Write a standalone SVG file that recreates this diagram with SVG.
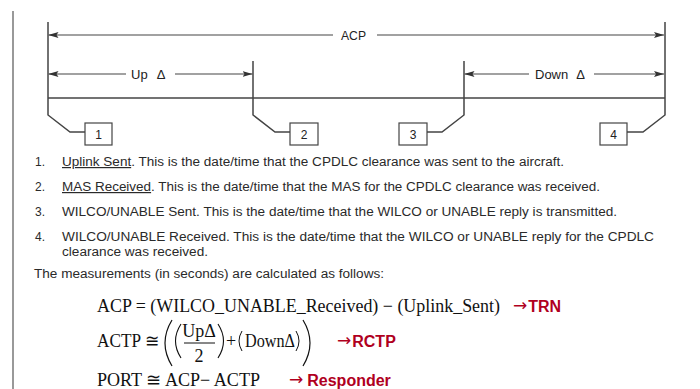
<svg xmlns="http://www.w3.org/2000/svg" width="700" height="389" viewBox="0 0 700 389">
<defs>
<marker id="ah" viewBox="0 0 10 6" refX="10" refY="3" markerWidth="10" markerHeight="6" markerUnits="userSpaceOnUse" orient="auto-start-reverse">
<path d="M0,0 L10,3 L0,6 L2,3 Z" fill="#333"/>
</marker>
<style>
.ln{stroke:#444;stroke-width:1.5;fill:none}
.dim{stroke:#444;stroke-width:1.2;fill:none}
.box{fill:#fff;stroke:#444;stroke-width:1.2}
.lbl{font-family:"Liberation Sans",Arial,sans-serif;font-size:13px;fill:#222}
.num{font-family:"Liberation Sans",Arial,sans-serif;font-size:12px;fill:#222;text-anchor:middle}
.body{font-family:"Liberation Sans",Arial,sans-serif;font-size:12px;fill:#2a2a2a}
.math{font-family:"Liberation Serif","Times New Roman",serif;font-size:18px;fill:#111}
.red{font-family:"Liberation Sans Narrow","Liberation Sans",Arial,sans-serif;font-size:16px;font-weight:bold;fill:#b0001e}
tspan.arr{font-family:"DejaVu Sans",sans-serif;font-weight:normal;font-size:17px}
</style>
</defs>
<rect width="700" height="389" fill="#fff"/>
<line x1="13" y1="11" x2="13" y2="389" stroke="#555" stroke-width="1.2"/>

<g id="connectors">
<line class="ln" x1="48" y1="98" x2="665" y2="98"/>
<line class="dim" x1="333" y1="35" x2="48.5" y2="35" marker-end="url(#ah)"/>
<line class="dim" x1="377" y1="35" x2="664" y2="35" marker-end="url(#ah)"/>
<line class="dim" x1="126" y1="74" x2="48.5" y2="74" marker-end="url(#ah)"/>
<line class="dim" x1="175" y1="74" x2="252.5" y2="74" marker-end="url(#ah)"/>
<line class="dim" x1="529" y1="74" x2="464.5" y2="74" marker-end="url(#ah)"/>
<line class="dim" x1="594" y1="74" x2="664" y2="74" marker-end="url(#ah)"/>
</g>

<g id="event1">
<polyline class="ln" points="48,22 48,115 70,132 85,132"/>
<rect class="box" x="85" y="123" width="27" height="22"/>
<text class="num" x="98.5" y="139">1</text>
</g>
<g id="event2">
<polyline class="ln" points="253,61 253,115 275,132 290,132"/>
<rect class="box" x="290" y="123" width="28" height="22"/>
<text class="num" x="304" y="139">2</text>
</g>
<g id="event3">
<polyline class="ln" points="464,61 464,115 442,132 427,132"/>
<rect class="box" x="399" y="123" width="28" height="22"/>
<text class="num" x="413" y="139">3</text>
</g>
<g id="event4">
<polyline class="ln" points="665,22 665,115 643,132 627,132"/>
<rect class="box" x="600" y="123" width="27" height="22"/>
<text class="num" x="613.5" y="139">4</text>
</g>

<g id="labels">
<text class="lbl" x="341" y="40" textLength="25" lengthAdjust="spacingAndGlyphs">ACP</text>
<text class="lbl" x="131" y="79">Up<tspan dx="9">Δ</tspan></text>
<text class="lbl" x="535" y="79">Down<tspan dx="8">Δ</tspan></text>
</g>

<g id="list">
<text class="body" x="35" y="166">1.</text>
<text class="body" x="62" y="166" textLength="502" lengthAdjust="spacingAndGlyphs"><tspan text-decoration="underline">Uplink Sent</tspan>. This is the date/time that the CPDLC clearance was sent to the aircraft.</text>
<text class="body" x="35" y="191">2.</text>
<text class="body" x="62" y="191" textLength="538" lengthAdjust="spacingAndGlyphs"><tspan text-decoration="underline">MAS Received</tspan>. This is the date/time that the MAS for the CPDLC clearance was received.</text>
<text class="body" x="35" y="216">3.</text>
<text class="body" x="62" y="216" textLength="555" lengthAdjust="spacingAndGlyphs">WILCO/UNABLE Sent. This is the date/time that the WILCO or UNABLE reply is transmitted.</text>
<text class="body" x="35" y="241">4.</text>
<text class="body" x="62" y="241" textLength="592" lengthAdjust="spacingAndGlyphs">WILCO/UNABLE Received.  This is the date/time that the WILCO or UNABLE reply for the CPDLC</text>
<text class="body" x="62" y="256" textLength="146" lengthAdjust="spacingAndGlyphs">clearance was received.</text>
<text class="body" x="34" y="278" textLength="350" lengthAdjust="spacingAndGlyphs">The measurements (in seconds) are calculated as follows:</text>
</g>

<g id="formulas">
<text class="math" x="97" y="312" textLength="403" lengthAdjust="spacingAndGlyphs">ACP = (WILCO_UNABLE_Received) − (Uplink_Sent)</text>
<text class="red" x="513" y="312"><tspan class="arr" dy="-1">→</tspan><tspan dx="1" dy="1">TRN</tspan></text>

<text class="math" x="97" y="347" textLength="62" lengthAdjust="spacingAndGlyphs">ACTP ≅</text>
<path d="M172,320 Q158,343 172,366" stroke="#111" stroke-width="1.2" fill="none"/>
<path d="M181,324 Q170,341 181,358" stroke="#111" stroke-width="1.1" fill="none"/>
<text class="math" x="199" y="337" text-anchor="middle">UpΔ</text>
<line x1="184" y1="343" x2="215" y2="343" stroke="#111" stroke-width="1"/>
<text class="math" x="199" y="362" text-anchor="middle">2</text>
<path d="M218,324 Q229,341 218,358" stroke="#111" stroke-width="1.1" fill="none"/>
<text class="math" x="226" y="347">+</text>
<path d="M242,331 Q236,341 242,351" stroke="#111" stroke-width="1" fill="none"/>
<text class="math" x="245" y="347" textLength="50" lengthAdjust="spacingAndGlyphs">DownΔ</text>
<path d="M296,331 Q302,341 296,351" stroke="#111" stroke-width="1" fill="none"/>
<path d="M303,320 Q317,343 303,366" stroke="#111" stroke-width="1.2" fill="none"/>
<text class="red" x="337" y="347"><tspan class="arr" dy="-1">→</tspan><tspan dx="1" dy="1">RCTP</tspan></text>

<text class="math" x="97" y="386" textLength="163" lengthAdjust="spacingAndGlyphs">PORT ≅ ACP− ACTP</text>
<text class="red" x="289" y="386"><tspan class="arr" dy="-1">→</tspan><tspan dx="4" dy="1">Responder</tspan></text>
</g>
</svg>
